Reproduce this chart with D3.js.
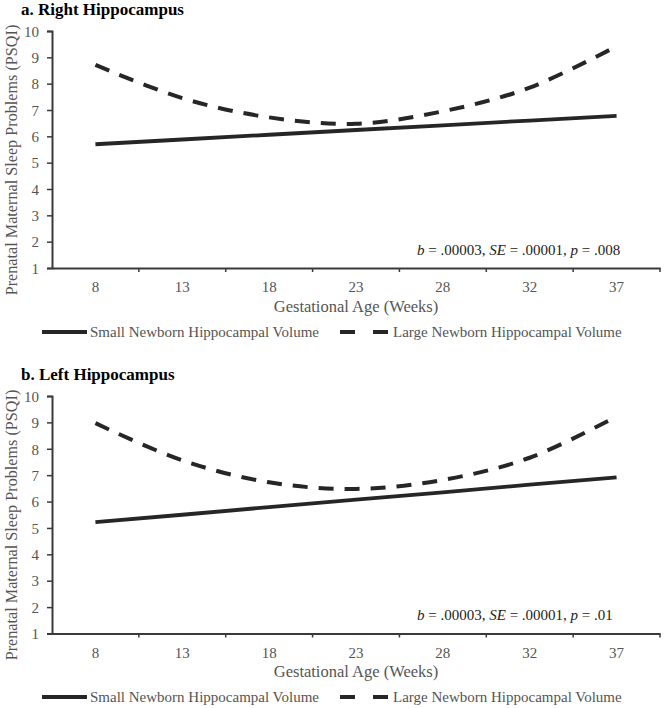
<!DOCTYPE html>
<html><head><meta charset="utf-8">
<script src="https://cdn.jsdelivr.net/npm/d3@7"></script>
<style>body{margin:0;background:#fff}svg{display:block}text{font-family:"Liberation Serif","Times New Roman",serif}</style>
</head><body><svg id="c" width="665" height="708"></svg>
<script>
const weeks = ["8","13","18","23","28","32","37"];
const yTicks = [1,2,3,4,5,6,7,8,9,10];
const rightSmall = [5.70,5.88,6.06,6.24,6.42,6.60,6.78];
const rightLarge = [8.71,7.45,6.72,6.48,6.95,7.85,9.42];
const leftSmall  = [5.22,5.50,5.79,6.07,6.35,6.64,6.92];
const leftLarge  = [8.97,7.56,6.73,6.48,6.82,7.66,9.22];
const panelTitles = ["a. Right Hippocampus","b. Left Hippocampus"];
const stats = [
  [["b",1]," = .00003, ",["SE",1]," = .00001, ",["p",1]," = .008"],
  [["b",1]," = .00003, ",["SE",1]," = .00001, ",["p",1]," = .01"]
];
const legendLabels = ["Small Newborn Hippocampal Volume","Large Newborn Hippocampal Volume"];

const svg = d3.select("#c");
const lineCol = "#262626", axisCol = "#3a3a3a", labCol = "#555";
const panels = [
  {small:rightSmall, large:rightLarge, off:0, top:31, bot:268},
  {small:leftSmall, large:leftLarge, off:365, top:396, bot:633.5}
];
panels.forEach((P,i)=>{
  const g = svg.append("g");
  const x = d3.scaleBand().domain(weeks).range([52,660]);
  const y = d3.scaleLinear().domain([1,10]).range([P.bot,P.top]);
  const o = P.off;
  g.append("text").attr("x",21).attr("y",15+o).attr("font-size",17).attr("font-weight","bold").attr("fill","#000").text(panelTitles[i]);
  // y axis
  const ya = g.append("g").attr("transform","translate(52,0)").call(d3.axisLeft(y).tickValues(yTicks).tickSize(5).tickPadding(8).tickFormat(d3.format("d")));
  ya.select(".domain").attr("stroke",axisCol).attr("stroke-width",2);
  ya.selectAll(".tick line").attr("stroke",axisCol).attr("stroke-width",1.5);
  ya.selectAll(".tick text").attr("font-size",15).attr("fill",labCol).attr("font-family","Liberation Serif").attr("dy","0.35em");
  // x axis
  const xa = g.append("g").attr("transform",`translate(0,${P.bot})`).call(d3.axisBottom(x).tickSize(0).tickPadding(0));
  xa.select(".domain").attr("stroke",axisCol).attr("stroke-width",2);
  xa.selectAll(".tick text").attr("font-size",15).attr("fill",labCol).attr("font-family","Liberation Serif").attr("dy",null).attr("y",24);
  const bounds = weeks.map(w=>x(w)).concat([x.range()[1]]).slice(1);
  g.selectAll(".xt").data(bounds).enter().append("line").attr("x1",d=>d).attr("x2",d=>d).attr("y1",P.bot).attr("y2",P.bot+4).attr("stroke",axisCol).attr("stroke-width",1.5);
  // titles
  g.append("text").attr("x",356).attr("y",312+o).attr("text-anchor","middle").attr("font-size",16.5).attr("fill",labCol).text("Gestational Age (Weeks)");
  g.append("text").attr("transform",`translate(17,${160+o}) rotate(-90)`).attr("text-anchor","middle").attr("font-size",16.2).attr("fill",labCol).text("Prenatal Maternal Sleep Problems (PSQI)");
  // stats
  const st = g.append("text").attr("x",417).attr("y",255+o).attr("font-size",15).attr("fill","#222");
  stats[i].forEach(s=>{ if(Array.isArray(s)) st.append("tspan").attr("font-style","italic").text(s[0]); else st.append("tspan").text(s); });
  // lines
  const cx = w=>x(w)+x.bandwidth()/2;
  const straight = d3.line().x((d,j)=>cx(weeks[j])).y(d=>y(d));
  const smooth = d3.line().x((d,j)=>cx(weeks[j])).y(d=>y(d)).curve(d3.curveCatmullRom.alpha(0));
  g.append("path").attr("d",straight(P.small)).attr("fill","none").attr("stroke",lineCol).attr("stroke-width",3.8);
  g.append("path").attr("d",smooth(P.large)).attr("fill","none").attr("stroke",lineCol).attr("stroke-width",4).attr("stroke-dasharray","15,11");
  // legend
  g.append("line").attr("x1",42).attr("x2",87).attr("y1",332+o).attr("y2",332+o).attr("stroke",lineCol).attr("stroke-width",4);
  g.append("text").attr("x",90).attr("y",337+o).attr("font-size",15).attr("fill",labCol).text(legendLabels[0]);
  g.append("line").attr("x1",340).attr("x2",388).attr("y1",332+o).attr("y2",332+o).attr("stroke",lineCol).attr("stroke-width",4).attr("stroke-dasharray","15,18");
  g.append("text").attr("x",393).attr("y",337+o).attr("font-size",15).attr("fill",labCol).text(legendLabels[1]);
});
</script></body></html>
